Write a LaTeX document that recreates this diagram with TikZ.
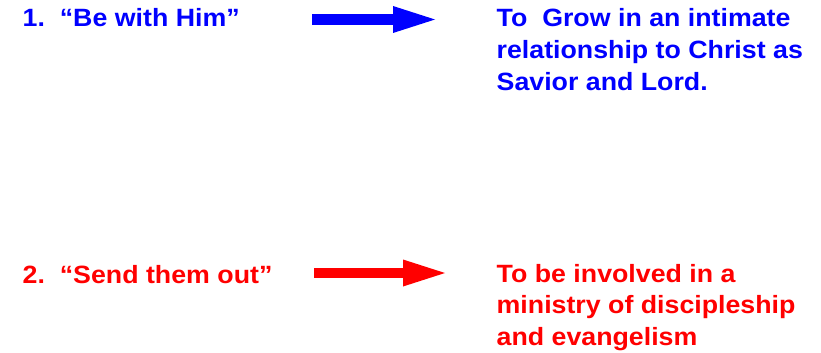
\documentclass[tikz,border=0pt]{standalone}
\usepackage{fontspec}
\setmainfont{Liberation Sans}[FakeStretch=1.07]
\usetikzlibrary{arrows.meta, positioning}
\definecolor{callblue}{RGB}{0,0,255}
\definecolor{callred}{RGB}{255,0,0}
\tikzset{
  call/.style={inner sep=0pt, anchor=base west,
               font=\fontsize{25}{31.5}\selectfont\bfseries},
  goal/.style={call, align=left},
  bigarrow/.style={-{Triangle[length=42pt, width=27pt, line width=0pt]},
                   line width=11pt},
}
\begin{document}
\begin{tikzpicture}[x=1pt, y=-1pt]
  \useasboundingbox (0,0) rectangle (821,353);

  % Be with Him (goal nodes sit on the baseline of their last line)
  \node[call, text=callblue] (be) at (22.5,27) {1.\ \ “Be with Him”};
  \node[goal, text=callblue] (grow) at (496.5,90)
    {To\ \ Grow in an intimate\\relationship to Christ as\\Savior and Lord.};
  \coordinate (be-s) at (312,19.5);
  \coordinate (be-e) at (435,19.5);
  \draw[bigarrow, callblue] (be-s) -- (be-e);

  % Send them out
  \node[call, text=callred] (send) at (22.5,283) {2.\ \ “Send them out”};
  \node[goal, text=callred] (ministry) at (496.5,345)
    {To be involved in a\\ministry of discipleship\\and evangelism};
  \coordinate (send-s) at (314,273);
  \coordinate (send-e) at (445,273);
  \draw[bigarrow, callred, line width=10pt] (send-s) -- (send-e);
\end{tikzpicture}
\end{document}
